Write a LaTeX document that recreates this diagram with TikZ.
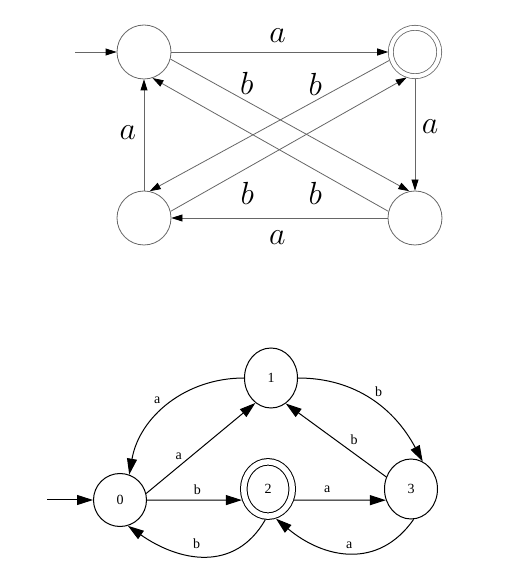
\RequirePackage{fix-cm}
\documentclass[tikz,border=0pt]{standalone}
\usepackage{fontspec}
\setmainfont{Liberation Serif}
\usetikzlibrary{shapes.geometric, arrows.meta, positioning}

\begin{document}
\begin{tikzpicture}[x=1pt, y=1pt]
    \tikzset{
		state/.style={draw=black!60, circle, line width=0.8pt, minimum size=54pt, inner sep=0pt},
		accept/.style={state, double, double distance=4.1pt, minimum size=48.4pt, outer sep=2.6pt},
		trans/.style={draw=black!60, line width=0.8pt, -{Triangle[color=black, length=11pt, width=7pt]}},
		sym/.style={font=\fontsize{32}{38}\selectfont, inner sep=3pt},
		gnode/.style={draw, ellipse, line width=1pt, minimum width=53pt, minimum height=60pt, inner sep=0pt, font=\fontsize{14}{16}\selectfont},
		gaccept/.style={gnode, double, double distance=5.5pt, minimum width=48.5pt, minimum height=54.3pt, outer sep=3.75pt},
		gtrans/.style={draw, line width=1pt, -{Triangle[length=16pt, width=10pt]}},
		gsym/.style={font=\fontsize{14}{16}\selectfont, inner sep=2pt}
	}
	\useasboundingbox (0,0) rectangle (509,574);

	% --- Autómata superior ---
	\node [state] (q0) at (144,522) {};
	\node [accept] (q1) at (415,522) {};
	\node [state] (q2) at (144,356) {};
	\node [state] (q3) at (415,356) {};

	% Flecha de entrada
	\coordinate (ini_top) at (75,522);
	\draw [trans] (ini_top) -- (q0.west);

	% --- Transiciones con a (contorno) ---
	\draw [trans] (q0) -- node[sym, pos=0.49, above=6pt] {$a$} (q1);
	\draw [trans] (q1) -- node[sym, pos=0.43, right=3.5pt] {$a$} (q3);
	\draw [trans] (q3) -- node[sym, pos=0.51, below=9pt] {$a$} (q2);
	\draw [trans] (q2) -- node[sym, pos=0.52, left=4.5pt] {$a$} (q0);

	% --- Transiciones con b (diagonales) ---
	\draw [trans] (q0.-15) -- node[sym, pos=0.32, above=3pt] {$b$} (q3.102);
	\draw [trans] (q1.198) -- node[sym, pos=0.31, above=2pt] {$b$} (q2.78);
	\draw [trans] (q2.14) -- node[sym, pos=0.325, below=11pt] {$b$} (q1.252);
	\draw [trans] (q3.166) -- node[sym, pos=0.31, below=8.5pt] {$b$} (q0.-72);

	% --- Autómata inferior ---
	\node [gnode, minimum height=53pt] (n0) at (120,74) {0};
	\node [gnode] (n1) at (271,196) {1};
	\node [gaccept] (n2) at (268,85) {2};
	\node [gnode] (n3) at (411,85) {3};

	\coordinate (ini_bot) at (47,74);
	\draw [gtrans] (ini_bot) -- (n0);

	% Rectas
	\draw [gtrans] (n0.14) -- node[gsym, pos=0.35, above left] {a} (n1.238);
	\draw [gtrans] (n0) -- node[gsym, pos=0.53, above=3pt] {b} (n2.203);
	\draw [gtrans] (n2.-23) -- node[gsym, pos=0.36, above=5pt] {a} (n3.204);
	\draw [gtrans] (n3.154) -- node[gsym, pos=0.32, above=6pt] {b} (n1.-60);

	% Curvas
	\draw [gtrans] (n1.west) to[out=180, in=80] node[gsym, pos=0.53, above left=3pt] {a} (n0.70);
	\draw [gtrans] (n1.east) to[out=0, in=118] node[gsym, pos=0.5, above right=1pt] {b} (n3.67);
	\draw [gtrans] (n2.265) to[out=240, in=-35, looseness=1.15] node[gsym, pos=0.55, above=4pt] {b} (n0.-73);
	\draw [gtrans] (n3.-85) to[out=235, in=-40, looseness=1.15] node[gsym, pos=0.5, above=2pt] {a} (n2.-75);
\end{tikzpicture}
\end{document}
